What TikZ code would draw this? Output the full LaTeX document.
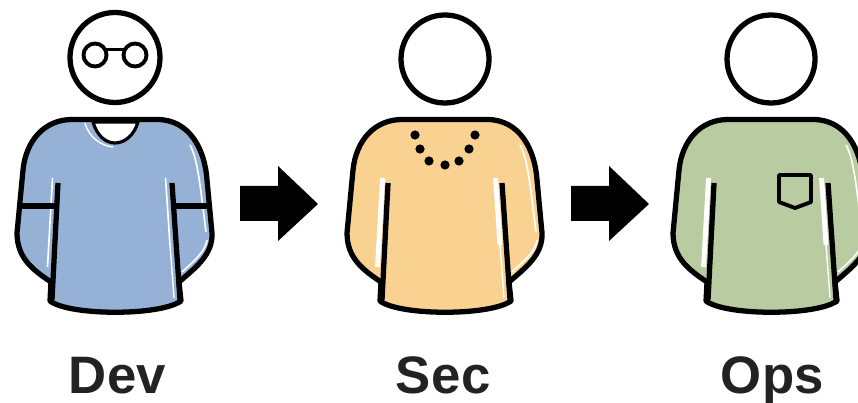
\documentclass[tikz,border=0pt]{standalone}
\usepackage{fontspec}
\setmainfont{Liberation Sans}
\newfontfamily\teamfont[LetterSpace=1]{Liberation Sans}
\usepackage{xcolor}
\definecolor{DevBlue}{RGB}{149,178,214}
\definecolor{SecSand}{RGB}{249,210,146}
\definecolor{OpsGreen}{RGB}{184,203,161}
\definecolor{LabelInk}{RGB}{34,34,34}
\tikzset{
    outline/.style={line width=4.5pt,black,line join=round},
    thinline/.style={line width=3.3pt,black,line join=round},
    shine/.style={line width=#1,white},
    teamlabel/.style={text=LabelInk,inner sep=0pt,anchor=base,
        font=\fontsize{45}{45}\teamfont\bfseries}
}
\newcommand{\shirtbody}[2]{
    \fill[#1] (72,119.5) -- (157,119.5)
        .. controls (190,119.5) and (205,150) .. (207,180)
        -- (212,233) .. controls (213,255) and (195,268) .. (179,282)
        -- (181,301) .. controls (160,316) and (70,316) .. (50,301)
        -- (51,282) .. controls (33,270) and (17,258) .. (17,233)
        -- (23,170) .. controls (26,140) and (45,119.5) .. (72,119.5) -- cycle;
    \draw[shine=#2] (52.5,178) -- (47.5,267);
    \draw[shine=#2] (165.5,178) -- (170,245);
    \draw[shine=1.2pt] (170,245) -- (174,298);
    \draw[shine=1.4pt] (190,145) .. controls (198,160) and (200,185) .. (206,232);
    \draw[shine=1.4pt] (207,240) .. controls (205,252) and (195,260) .. (182,272);
    \draw[outline] (72,119.5) -- (157,119.5)
        .. controls (190,119.5) and (205,150) .. (207,180)
        -- (212,233) .. controls (213,255) and (195,268) .. (179,282)
        -- (181,301) .. controls (160,316) and (70,316) .. (50,301)
        -- (51,282) .. controls (33,270) and (17,258) .. (17,233)
        -- (23,170) .. controls (26,140) and (45,119.5) .. (72,119.5) -- cycle;
    \draw[outline] (58,183) -- (52,300);
    \draw[outline] (172,183) -- (180,300);
}

\begin{document}
\begin{tikzpicture}[x=0.03cm,y=-0.03cm]
    \clip (0,0) rectangle (858,403);
    \fill[white] (0,0) rectangle (858,403);

    % Dev
    \begin{scope}
        \shirtbody{DevBlue}{1.4pt}
        \draw[outline] (115,57.5) circle (45);
        \draw[thinline] (95,55) circle (11.5);
        \draw[thinline] (135,55) circle (11.5);
        \draw[thinline] (106,49.5) -- (124,49.5);
        \draw[outline] (21,206) -- (56,206);
        \draw[outline] (174,206) -- (209,206);
        \draw[shine=1.2pt] (85,123) .. controls (89,138) and (102,146) .. (113,147);
        \filldraw[fill=white,draw=black,line width=2.7pt]
            (93,122) .. controls (97,136) and (106,143) .. (115,143)
            .. controls (124,143) and (134,136) .. (138,122) -- cycle;
        \draw[outline] (72,119.5) -- (157,119.5);
    \end{scope}

    % Sec
    \begin{scope}[xshift=9.9cm]
        \shirtbody{SecSand}{4.2pt}
        \draw[outline] (115,59) circle (44);
        \foreach \dotx/\doty in {85/135,90/149,99/161,115/165,129/161,139/149,145/135}
            \fill[black] (\dotx,\doty) circle (4.6);
    \end{scope}

    % Ops
    \begin{scope}[xshift=19.68cm]
        \shirtbody{OpsGreen}{4.2pt}
        \draw[outline] (115,59) circle (44);
        \draw[thinline] (123,175) -- (155,175) -- (155,202) -- (139,208)
            -- (123,202) -- cycle;
    \end{scope}

    \fill[black] (240,186) -- (278,186) -- (278,166) -- (318,204)
        -- (278,241) -- (278,221) -- (240,221) -- cycle;
    \fill[black] (571,186) -- (609,186) -- (609,166) -- (649,204)
        -- (609,241) -- (609,221) -- (571,221) -- cycle;

    \node[teamlabel] (dev) at (117.5,393.5) {Dev};
    \node[teamlabel] (sec) at (443,393.5) {Sec};
    \node[teamlabel] (ops) at (772.5,393.5) {Ops};
\end{tikzpicture}
\end{document}
